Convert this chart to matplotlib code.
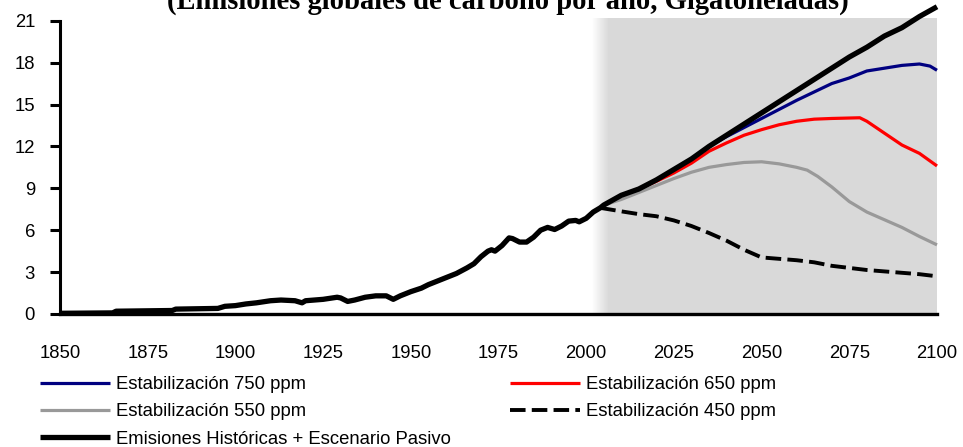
import numpy as np
import matplotlib
matplotlib.use("Agg")
import matplotlib.pyplot as plt

plt.rcParams['font.family'] = ['Liberation Sans', 'DejaVu Sans']

# ---------------- data ----------------
title = "(Emisiones globales de carbono por año, Gigatoneladas)"

hist_years = [1850, 1865, 1866, 1882, 1883, 1895, 1897, 1900, 1903, 1906, 1910, 1913,
              1917, 1919, 1920, 1925, 1929, 1930, 1932, 1934, 1937, 1940, 1943, 1945,
              1947, 1950, 1953, 1955, 1958, 1960, 1963, 1966, 1968, 1970, 1972, 1973,
              1974, 1976, 1978, 1979, 1981, 1983, 1985, 1987, 1989, 1991, 1993, 1995,
              1997, 1998, 2000, 2002, 2004,
              2005, 2010, 2015, 2020, 2025, 2030, 2035, 2040, 2045, 2050, 2055, 2060,
              2065, 2070, 2075, 2080, 2085, 2090, 2095, 2100]
hist_values = [0.05, 0.08, 0.2, 0.25, 0.35, 0.4, 0.55, 0.6, 0.72, 0.8, 0.95, 1.0,
               0.95, 0.8, 0.95, 1.05, 1.2, 1.15, 0.9, 1.0, 1.2, 1.3, 1.3, 1.05,
               1.3, 1.6, 1.85, 2.1, 2.4, 2.6, 2.9, 3.3, 3.6, 4.1, 4.5, 4.6,
               4.5, 4.9, 5.45, 5.4, 5.15, 5.15, 5.5, 6.0, 6.2, 6.05, 6.3, 6.65,
               6.7, 6.6, 6.85, 7.3, 7.6,
               7.8, 8.5, 8.95, 9.6, 10.35, 11.1, 12.0, 12.8, 13.6, 14.4, 15.2, 16.0,
               16.8, 17.6, 18.4, 19.1, 19.9, 20.5, 21.3, 22.0]

s750_years = [2035, 2040, 2045, 2050, 2055, 2060, 2065, 2070, 2075, 2080, 2085, 2090,
              2095, 2098, 2100]
s750_values = [12.0, 12.7, 13.35, 14.0, 14.65, 15.3, 15.9, 16.5, 16.9, 17.4, 17.6, 17.8,
               17.9, 17.75, 17.45]

s650_years = [2010, 2015, 2020, 2025, 2030, 2035, 2040, 2045, 2050, 2055, 2060, 2065,
              2070, 2078, 2080, 2085, 2090, 2095, 2100]
s650_values = [8.5, 8.95, 9.5, 10.1, 10.8, 11.65, 12.25, 12.8, 13.2, 13.55, 13.8, 13.95,
               14.0, 14.05, 13.8, 12.95, 12.1, 11.5, 10.6]

s550_years = [2005, 2010, 2015, 2020, 2025, 2030, 2035, 2040, 2045, 2050, 2055, 2060,
              2063, 2066, 2070, 2075, 2080, 2085, 2090, 2095, 2100]
s550_values = [7.8, 8.2, 8.7, 9.2, 9.7, 10.15, 10.5, 10.7, 10.85, 10.9, 10.75, 10.5,
               10.3, 9.85, 9.1, 8.05, 7.3, 6.75, 6.2, 5.55, 4.95]

s450_years = [2004, 2010, 2015, 2020, 2025, 2030, 2035, 2040, 2045, 2050, 2055, 2060,
              2065, 2070, 2075, 2080, 2085, 2090, 2095, 2100]
s450_values = [7.6, 7.35, 7.15, 7.0, 6.7, 6.3, 5.8, 5.25, 4.6, 4.05, 3.95, 3.85,
               3.7, 3.45, 3.3, 3.15, 3.05, 2.95, 2.85, 2.7]

x_ticks = [1850, 1875, 1900, 1925, 1950, 1975, 2000, 2025, 2050, 2075, 2100]
y_ticks = [0, 3, 6, 9, 12, 15, 18, 21]

labels = ["Estabilización 750 ppm", "Estabilización 550 ppm",
          "Emisiones Históricas + Escenario Pasivo",
          "Estabilización 650 ppm", "Estabilización 450 ppm"]

# ---------------- figure ----------------
W, H = 963, 447
fig = plt.figure(figsize=(W / 100, H / 100), dpi=100)
ax = fig.add_axes([60 / W, (H - 314) / H, 877 / W, (314 - 20.7) / H])
ax.set_xlim(1850, 2100)
ax.set_ylim(0, 21)

# shaded projection area with soft left edge
gray = np.array([0.851, 0.851, 0.851])
shade_top = 21.17
grad = np.linspace(0, 1, 64)
img = np.ones((2, 64, 3))
for i in range(3):
    img[:, :, i] = 1 - grad * (1 - gray[i])
ax.imshow(img, extent=[2001.6, 2006.3, 0, shade_top], aspect='auto',
          interpolation='bilinear', zorder=0, clip_on=False)
ax.fill_between([2006.3, 2100], 0, shade_top, color=gray, lw=0, zorder=0, clip_on=False)

l750, = ax.plot(s750_years, s750_values, color='#000080', lw=2.3, zorder=3,
                solid_capstyle='butt', clip_on=False)
l650, = ax.plot(s650_years, s650_values, color='#ff0000', lw=2.3, zorder=3,
                solid_capstyle='butt', clip_on=False)
l550, = ax.plot(s550_years, s550_values, color='#999999', lw=2.3, zorder=3,
                solid_capstyle='butt', clip_on=False)
l450, = ax.plot(s450_years, s450_values, color='black', lw=2.8, zorder=3,
                dashes=(4, 1.6), clip_on=False)
lhist, = ax.plot(hist_years, hist_values, color='black', lw=3.8, zorder=4,
                 solid_capstyle='butt', clip_on=False)

# axes styling
for s in ['top', 'right']:
    ax.spines[s].set_visible(False)
ax.spines['left'].set_linewidth(2.2)
ax.spines['bottom'].set_linewidth(2.4)
ax.spines['bottom'].set_zorder(5)
ax.set_yticks(y_ticks)
ax.set_xticks(x_ticks)
ax.tick_params(axis='y', direction='out', length=7.2, width=2.2, pad=10.8,
               labelsize=13.3)
ax.tick_params(axis='x', length=0, pad=22, labelsize=13.3)
ax.set_facecolor('white')

# title (partly cut off at the top, as in the reference)
t = fig.text(508 / W, 1 - 8.5 / H, title, ha='center', va='baseline',
             fontfamily='Liberation Serif', fontweight='bold', fontsize=17)
fig.canvas.draw()
w = t.get_window_extent().width
t.set_fontsize(17 * 685 / w)

# legend
fig.legend([l750, l550, lhist, l650, l450], labels, ncol=2, loc='upper left',
           bbox_to_anchor=(40 / W, 1 - 376 / H), frameon=False, fontsize=13.3,
           handlelength=3.8, handletextpad=0.32, columnspacing=3.2,
           labelspacing=0.56, borderpad=0, borderaxespad=0)

fig.savefig("out.png", dpi=100)
